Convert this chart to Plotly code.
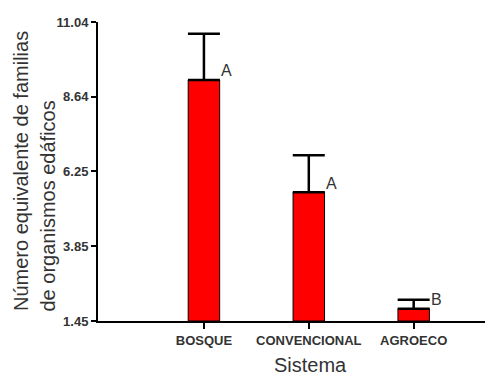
import plotly.graph_objects as go

categories = ["BOSQUE", "CONVENCIONAL", "AGROECO"]
means = [9.18, 5.58, 1.84]
errors_up = [1.48, 1.19, 0.29]
letters = ["A", "A", "B"]
ytick_vals = [1.45, 3.85, 6.25, 8.64, 11.04]
ytick_text = ["1.45", "3.85", "6.25", "8.64", "11.04"]

FONT = "Arial, Liberation Sans, sans-serif"
W, H = 485, 384
ML, MR, MT, MB = 98, 0, 22, 63

fig = go.Figure()
fig.add_trace(go.Bar(
    x=categories, y=[m - 1.45 for m in means], base=1.45,
    width=0.3,
    marker=dict(color="#ff0000", line=dict(color="#000000", width=1)),
    error_y=dict(type="data", symmetric=False, array=errors_up,
                 arrayminus=[0, 0, 0], color="#000000", thickness=2.5, width=16),
    showlegend=False,
))

for c, m, t in zip(categories, means, letters):
    fig.add_annotation(x=c, y=m, xref="x", yref="y", text=t, showarrow=False,
                       xshift=23, yshift=9, xanchor="center", yanchor="middle",
                       font=dict(family=FONT, size=16, color="#333333"))

pw = W - ML - MR
ph = H - MT - MB
def px_x(p):
    return (p - ML) / pw
def px_y(p):
    return (H - MB - p) / ph

fig.add_annotation(x=px_x(21), y=px_y(313), xref="paper", yref="paper",
                   text="Número equivalente de familias", textangle=-90,
                   showarrow=False, xanchor="center", yanchor="bottom",
                   font=dict(family=FONT, size=20, color="#333333"))
fig.add_annotation(x=px_x(47), y=px_y(313), xref="paper", yref="paper",
                   text="de organismos edáficos", textangle=-90,
                   showarrow=False, xanchor="center", yanchor="bottom",
                   font=dict(family=FONT, size=20, color="#333333"))
fig.add_annotation(x=px_x(310), y=px_y(365), xref="paper", yref="paper",
                   text="Sistema", showarrow=False, xanchor="center", yanchor="middle",
                   font=dict(family=FONT, size=20, color="#333333"))

fig.update_layout(
    width=W, height=H,
    margin=dict(l=ML, r=MR, t=MT, b=MB, pad=0),
    paper_bgcolor="white", plot_bgcolor="white",
    xaxis=dict(range=[-1.01, 2.68], showline=True, linecolor="black", linewidth=2,
               ticks="outside", ticklen=6, tickwidth=2, tickcolor="black",
               showgrid=False, zeroline=False,
               tickfont=dict(family=FONT, size=13, color="#333333", weight="bold")),
    yaxis=dict(range=[1.45, 11.04], showline=True, linecolor="black", linewidth=2,
               ticks="outside", ticklen=5, tickwidth=2, tickcolor="black",
               tickvals=ytick_vals, ticktext=ytick_text,
               showgrid=False, zeroline=False,
               tickfont=dict(family=FONT, size=13, color="#333333", weight="bold")),
)

fig.write_html("out.html")
